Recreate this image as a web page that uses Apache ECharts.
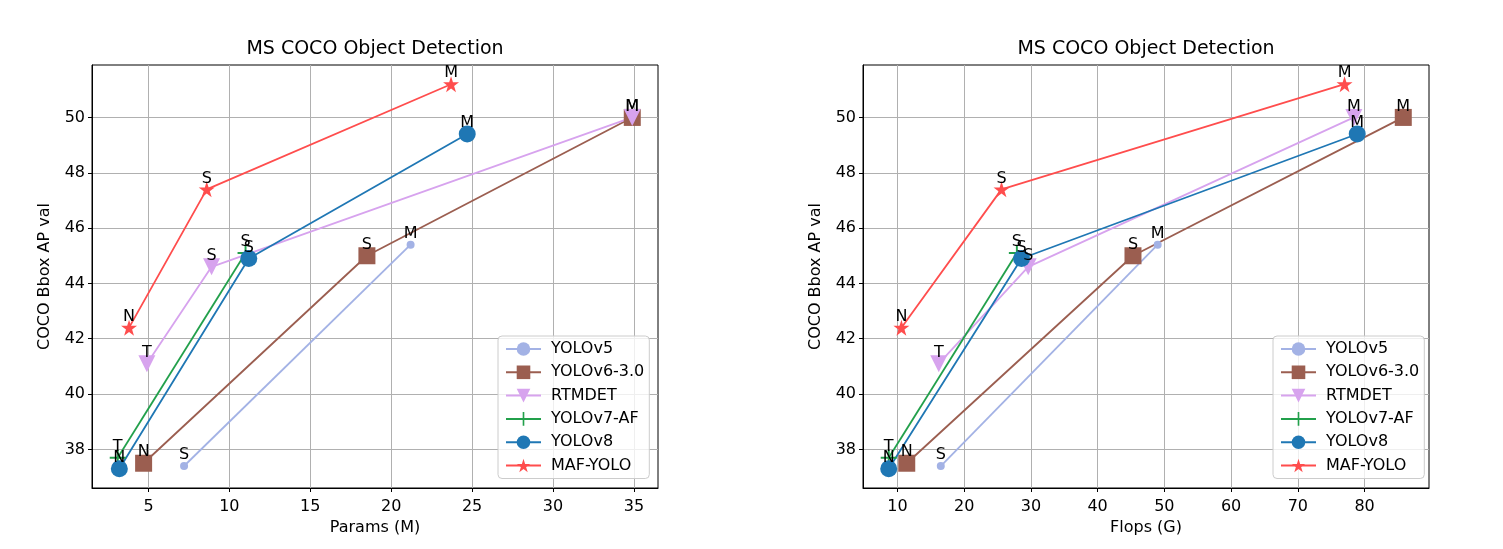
<!DOCTYPE html>
<html lang="en">
<head>
    <meta charset="UTF-8">
    <title>MS COCO Object Detection</title>
    <script src="https://cdn.jsdelivr.net/npm/echarts@6/dist/echarts.min.js"></script>
    <style>
        html, body { margin: 0; padding: 0; background: #fff; }
        #chart { width: 1503px; height: 549px; }
    </style>
</head>
<body>
    <div id="chart"></div>
    <script>
        // 数据
        const modelNames = ['YOLOv5', 'YOLOv6-3.0', 'RTMDET', 'YOLOv7-AF', 'YOLOv8', 'MAF-YOLO'];

        const yolov5Sizes = ['S', 'M'];
        const yolov5Params = [7.2, 21.2];
        const yolov5Flops = [16.5, 49.0];
        const yolov5AP = [37.4, 45.4];

        const yolov6Sizes = ['N', 'S', 'M'];
        const yolov6Params = [4.7, 18.5, 34.9];
        const yolov6Flops = [11.4, 45.3, 85.8];
        const yolov6AP = [37.5, 45.0, 50.0];

        const rtmdetSizes = ['T', 'S', 'M'];
        const rtmdetParams = [4.9, 8.9, 34.9];
        const rtmdetFlops = [16.2, 29.6, 78.4];
        const rtmdetAP = [41.1, 44.6, 50.0];

        const yolov7Sizes = ['T', 'S'];
        const yolov7Params = [3.1, 11.0];
        const yolov7Flops = [8.7, 27.9];
        const yolov7AP = [37.7, 45.1];

        const yolov8Sizes = ['N', 'S', 'M'];
        const yolov8Params = [3.2, 11.2, 24.7];
        const yolov8Flops = [8.7, 28.6, 78.9];
        const yolov8AP = [37.3, 44.9, 49.4];

        const mafSizes = ['N', 'S', 'M'];
        const mafParams = [3.8, 8.6, 23.7];
        const mafFlops = [10.6, 25.6, 77.0];
        const mafAP = [42.4, 47.4, 51.2];

        const paramsTicks = [5, 10, 15, 20, 25, 30, 35];
        const flopsTicks = [10, 20, 30, 40, 50, 60, 70, 80];
        const apTicks = [38, 40, 42, 44, 46, 48, 50];

        const font = 'DejaVu Sans';
        const starPath = 'path://M50,0 L61.23,34.55 L97.55,34.55 L68.17,55.9 L79.39,90.45 L50,69.1 L20.61,90.45 L31.83,55.9 L2.45,34.55 L38.77,34.55 Z';
        const plusPath = 'path://M4.4,0 L5.6,0 L5.6,4.4 L10,4.4 L10,5.6 L5.6,5.6 L5.6,10 L4.4,10 L4.4,5.6 L0,5.6 L0,4.4 L4.4,4.4 Z';

        // 每个模型的样式
        const styles = [
            { color: '#a3b2e5', symbol: 'circle', size: 8, rotate: 0 },
            { color: '#9b5e50', symbol: 'rect', size: 17, rotate: 0 },
            { color: '#d7a3ee', symbol: 'triangle', size: 17, rotate: 180 },
            { color: '#22a04b', symbol: plusPath, size: 16, rotate: 0 },
            { color: '#1f77b4', symbol: 'circle', size: 17, rotate: 0 },
            { color: '#ff4d4d', symbol: starPath, size: 16, rotate: 0 }
        ];

        const sizesList = [yolov5Sizes, yolov6Sizes, rtmdetSizes, yolov7Sizes, yolov8Sizes, mafSizes];
        const paramsList = [yolov5Params, yolov6Params, rtmdetParams, yolov7Params, yolov8Params, mafParams];
        const flopsList = [yolov5Flops, yolov6Flops, rtmdetFlops, yolov7Flops, yolov8Flops, mafFlops];
        const apList = [yolov5AP, yolov6AP, rtmdetAP, yolov7AP, yolov8AP, mafAP];

        // matplotlib 默认 5% 边距
        function range(lists) {
            let all = [].concat(...lists);
            let lo = Math.min(...all), hi = Math.max(...all);
            let m = (hi - lo) * 0.05;
            return [lo - m, hi + m];
        }
        const paramsRange = range(paramsList);
        const flopsRange = range(flopsList);
        const apRange = range(apList);

        function makeSeries(i, xs, gridIdx) {
            let st = styles[i];
            return {
                name: modelNames[i],
                type: 'line',
                xAxisIndex: gridIdx,
                yAxisIndex: gridIdx,
                symbol: st.symbol,
                symbolSize: st.size,
                symbolRotate: st.rotate,
                showAllSymbol: true,
                lineStyle: { color: st.color, width: 1.8 },
                itemStyle: { color: st.color, opacity: 1 },
                label: {
                    show: true,
                    position: 'top',
                    distance: 3 - st.size / 2,
                    color: '#000',
                    fontFamily: font,
                    fontSize: 16,
                    formatter: function (p) { return sizesList[i][p.dataIndex]; }
                },
                emphasis: { disabled: true },
                data: xs.map(function (x, k) { return [x, apList[i][k]]; })
            };
        }

        function xAxisOf(gridIdx, name, r, ticks) {
            return {
                type: 'value',
                gridIndex: gridIdx,
                min: r[0],
                max: r[1],
                name: name,
                nameLocation: 'middle',
                nameGap: 32,
                nameTextStyle: { fontFamily: font, fontSize: 16, color: '#000' },
                axisLine: { show: true, lineStyle: { color: '#000', width: 1 } },
                axisTick: { show: true, length: 4, lineStyle: { color: '#000' }, customValues: ticks },
                axisLabel: { fontFamily: font, fontSize: 16, color: '#000', margin: 11, customValues: ticks },
                splitLine: { show: true, lineStyle: { color: '#b0b0b0', width: 1 } }
            };
        }

        function yAxisOf(gridIdx) {
            return {
                type: 'value',
                gridIndex: gridIdx,
                min: apRange[0],
                max: apRange[1],
                name: 'COCO Bbox AP val',
                nameLocation: 'middle',
                nameGap: 39,
                nameTextStyle: { fontFamily: font, fontSize: 16, color: '#000' },
                axisLine: { show: true, lineStyle: { color: '#000', width: 1 } },
                axisTick: { show: true, length: 4, lineStyle: { color: '#000' }, customValues: apTicks },
                axisLabel: { fontFamily: font, fontSize: 16, color: '#000', margin: 7, customValues: apTicks },
                splitLine: { show: true, lineStyle: { color: '#b0b0b0', width: 1 } }
            };
        }

        function legendOf(left) {
            return {
                data: modelNames,
                orient: 'vertical',
                left: left,
                top: 336,
                itemWidth: 35,
                itemHeight: 17,
                itemGap: 7.3,
                padding: [5, 5, 5, 7],
                borderColor: '#cccccc',
                borderWidth: 1,
                borderRadius: 4,
                backgroundColor: 'rgba(255,255,255,0.8)',
                selectedMode: false,
                textStyle: { fontFamily: font, fontSize: 16, color: '#000', padding: [0, 0, 0, 5] }
            };
        }

        let myChart = echarts.init(document.getElementById('chart'));

        let series = [];
        for (let i = 0; i < modelNames.length; i++) series.push(makeSeries(i, paramsList[i], 0));
        for (let i = 0; i < modelNames.length; i++) series.push(makeSeries(i, flopsList[i], 1));

        let option = {
            animation: false,
            backgroundColor: '#fff',
            title: [
                { text: 'MS COCO Object Detection', left: 375, top: 40, textAlign: 'center', padding: 0,
                  textStyle: { fontFamily: font, fontSize: 19, fontWeight: 'normal', color: '#000' } },
                { text: 'MS COCO Object Detection', left: 1146, top: 40, textAlign: 'center', padding: 0,
                  textStyle: { fontFamily: font, fontSize: 19, fontWeight: 'normal', color: '#000' } }
            ],
            legend: [legendOf(498), legendOf(1273)],
            grid: [
                { left: 92, top: 65, width: 566, height: 423, show: true, borderColor: '#000', borderWidth: 1 },
                { left: 863, top: 65, width: 566, height: 423, show: true, borderColor: '#000', borderWidth: 1 }
            ],
            xAxis: [
                xAxisOf(0, 'Params (M)', paramsRange, paramsTicks),
                xAxisOf(1, 'Flops (G)', flopsRange, flopsTicks)
            ],
            yAxis: [yAxisOf(0), yAxisOf(1)],
            series: series
        };

        myChart.setOption(option);
    </script>
</body>
</html>
